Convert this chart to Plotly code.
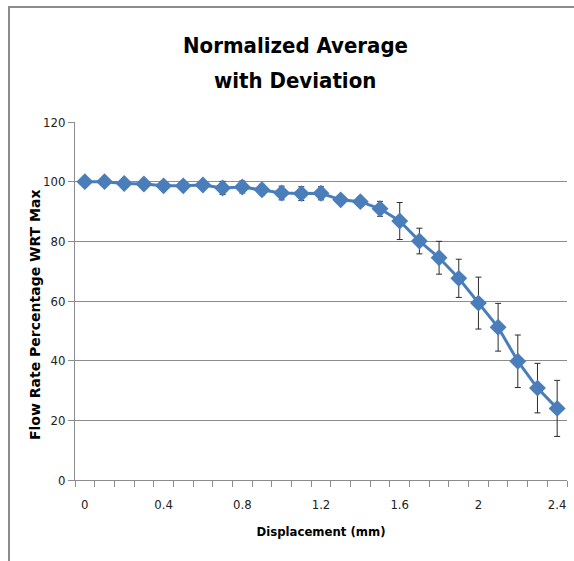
import plotly.graph_objects as go

displacement = [0.0, 0.1, 0.2, 0.3, 0.4, 0.5, 0.6, 0.7, 0.8, 0.9, 1.0, 1.1, 1.2,
                1.3, 1.4, 1.5, 1.6, 1.7, 1.8, 1.9, 2.0, 2.1, 2.2, 2.3, 2.4]
flow_pct = [100.0, 100.0, 99.4, 99.2, 98.6, 98.6, 98.9, 97.9, 98.2, 97.3, 96.2, 96.0, 96.1,
            93.9, 93.3, 90.9, 86.8, 80.1, 74.5, 67.6, 59.3, 51.2, 39.8, 30.8, 24.0]
deviation = [0.3, 0.3, 0.4, 0.4, 0.5, 0.5, 0.6, 2.2, 2.0, 1.8, 2.3, 2.3, 2.2,
             1.0, 1.5, 2.5, 6.2, 4.3, 5.5, 6.4, 8.7, 8.0, 8.8, 8.3, 9.4]
x_tick_vals = [0.0, 0.4, 0.8, 1.2, 1.6, 2.0, 2.4]
x_tick_text = ["0", "0.4", "0.8", "1.2", "1.6", "2", "2.4"]
y_tick_vals = [0, 20, 40, 60, 80, 100, 120]
title_lines = ["Normalized Average", "with Deviation"]

W, H = 574, 561
L, R, T, B = 75, 7, 122, 81
pw, ph = W - L - R, H - T - B


def px_x(x):
    return (x - L) / pw


def px_y(y):
    return (H - B - y) / ph


NARROW = "DejaVu Sans Condensed, Liberation Sans Narrow, Liberation Sans, sans-serif"
BLUE = "#4A7EBB"

fig = go.Figure()
fig.add_trace(go.Scatter(
    x=displacement, y=flow_pct, mode="lines+markers",
    line=dict(color=BLUE, width=3),
    marker=dict(symbol="diamond", size=13, color=BLUE),
    error_y=dict(type="data", array=deviation, visible=True,
                 color="#2b2b2b", thickness=1, width=3),
    showlegend=False,
))

# chart frame (only top/left edges visible in the crop)
fig.add_shape(type="rect", xref="paper", yref="paper",
              x0=px_x(9), x1=1.5, y0=-1.0, y1=px_y(7),
              line=dict(color="#8c8c8c", width=2), layer="below")

# two-line chart title
for text, yc in zip(title_lines, [45, 80]):
    fig.add_annotation(text="<b>%s</b>" % text, xref="paper", yref="paper",
                       x=px_x(295), y=px_y(yc), xanchor="center", yanchor="middle",
                       showarrow=False,
                       font=dict(family=NARROW, size=22, color="#000000"))

# y-axis title
fig.add_annotation(text="<b>Flow Rate Percentage WRT Max</b>", xref="paper", yref="paper",
                   x=px_x(35), y=px_y(315), xanchor="center", yanchor="middle",
                   textangle=-90, showarrow=False,
                   font=dict(family="DejaVu Sans, sans-serif", size=14, color="#000"))

fig.update_layout(
    width=W, height=H,
    margin=dict(l=L, r=R, t=T, b=B),
    paper_bgcolor="white", plot_bgcolor="white",
    xaxis=dict(
        range=[-0.05, 2.45], tickvals=x_tick_vals, ticktext=x_tick_text,
        ticks="outside", ticklen=12, tickcolor="rgba(0,0,0,0)",
        showgrid=False, zeroline=False,
        showline=True, linecolor="#8c8c8c", linewidth=1,
        minor=dict(tick0=-0.05, dtick=0.1, ticks="outside", ticklen=6,
                   tickcolor="#8c8c8c", showgrid=False),
        tickfont=dict(family=NARROW, size=13, color="#222"),
        title=dict(text="<b>Displacement (mm)</b>", standoff=16,
                   font=dict(family=NARROW, size=13, color="#000")),
    ),
    yaxis=dict(
        range=[0, 120], tickvals=y_tick_vals, ticks="outside", ticklen=6,
        tickcolor="#8c8c8c", showgrid=True, gridcolor="#8c8c8c", gridwidth=1,
        zeroline=False, showline=True, linecolor="#8c8c8c", linewidth=1,
        tickfont=dict(family=NARROW, size=13, color="#222"),
    ),
)

fig.write_html("out.html", config={"displayModeBar": False},
               post_script="document.body.style.margin='0';")
